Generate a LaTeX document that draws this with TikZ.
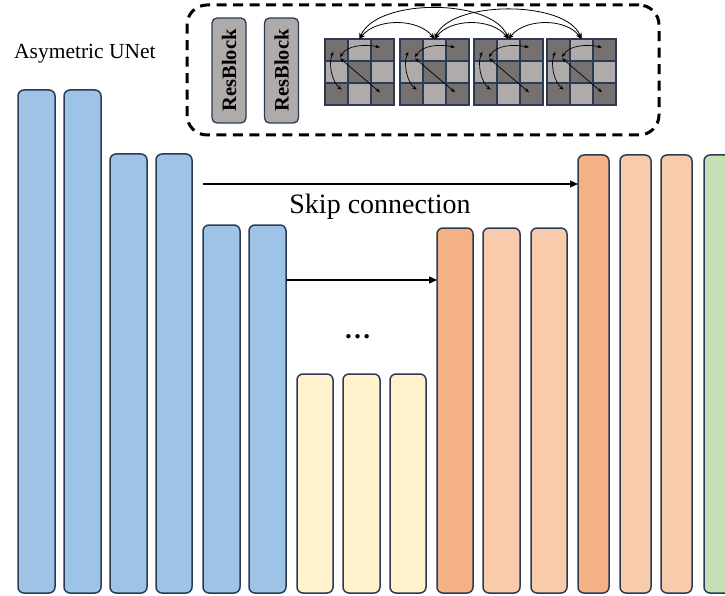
\documentclass[tikz,border=0pt]{standalone}
\usepackage{fontspec}
\setmainfont{Liberation Serif}
\usetikzlibrary{arrows.meta}
\definecolor{edge}{HTML}{2B3A55}
\definecolor{cblue}{HTML}{9DC3E6}
\definecolor{cyel}{HTML}{FFF2CC}
\definecolor{corD}{HTML}{F4B183}
\definecolor{corL}{HTML}{F8CBAD}
\definecolor{cgreen}{HTML}{C5E0B4}
\definecolor{gdark}{HTML}{767171}
\definecolor{glight}{HTML}{AFABAB}
\tikzset{
  bar/.style={draw=edge, line width=1.5pt, rounded corners=6pt, inner sep=0pt, outer sep=0pt},
  resblock/.style={draw=edge, line width=1.3pt, fill=glight, rounded corners=5pt, inner sep=0pt, outer sep=0pt,
     font=\fontsize{20.5}{22}\selectfont\bfseries},
  gridnode/.style={draw=none, minimum width=69pt, minimum height=66pt, inner sep=0pt, outer sep=0pt},
  cellbox/.style={draw=edge, line width=1.2pt},
  arr/.style={line width=1.2pt, -{Triangle[length=8pt,width=7pt]}},
  iarr/.style={line width=0.7pt, {Stealth[length=4.5pt,width=3.5pt]}-{Stealth[length=4.5pt,width=3.5pt]}},
  arcarr/.style={line width=0.8pt, {Stealth[length=6pt,width=5pt]}-{Stealth[length=6pt,width=5pt]}},
  dashbox/.style={draw=black, line width=3pt, dash pattern=on 10pt off 6.5pt, rounded corners=20pt, inner sep=0pt, outer sep=0pt}
}
\newcommand\ubar[5]{\node[bar,fill=#5,minimum width={(#3-#2)*1pt},minimum height={(593-#4)*1pt},anchor=north west] (#1) at (#2,#4) {};}
\newcommand\cellgrid[3]{%
  \node[gridnode,anchor=north west] (#1) at (#2,#3) {};
  \begin{scope}[shift={(#2,#3)}]
    \foreach \i/\j/\c in {0/0/gdark,1/0/glight,2/0/gdark,0/1/glight,1/1/gdark,2/1/glight,0/2/gdark,1/2/glight,2/2/gdark}
      \filldraw[cellbox,fill=\c] (\i*23,\j*22) rectangle ++(23,22);
    \draw[iarr] (8.3,12.7) .. controls (3,25) and (7,43) .. (16.7,50.7);
    \draw[iarr] (15,18.3) .. controls (22,6) and (40,5) .. (55,8.3);
    \draw[iarr] (15,19.3) -- (55,53.3);
  \end{scope}}
\begin{document}
\begin{tikzpicture}[x=1pt,y=-1pt]
\useasboundingbox (0,0) rectangle (725,596);
\clip (0,0) rectangle (725,596);
% title
\node[anchor=base west, inner sep=0pt, font=\fontsize{21.5}{24}\selectfont] (title) at (14,59) {Asymetric UNet};
% encoder bars
\ubar{b1}{18}{55}{90}{cblue}
\ubar{b2}{64}{101}{90}{cblue}
\ubar{b3}{110}{147}{154}{cblue}
\ubar{b4}{156}{192}{154}{cblue}
\ubar{b5}{203}{240}{225}{cblue}
\ubar{b6}{249}{286}{225}{cblue}
% bottleneck
\ubar{y1}{297}{333}{374}{cyel}
\ubar{y2}{343}{380}{374}{cyel}
\ubar{y3}{390}{426}{374}{cyel}
% decoder
\ubar{o1}{437}{473}{228}{corD}
\ubar{o2}{483}{520}{228}{corL}
\ubar{o3}{531}{567}{228}{corL}
\ubar{r1}{578}{609}{155}{corD}
\ubar{r2}{620}{651}{155}{corL}
\ubar{r3}{661}{692}{155}{corL}
\ubar{g0}{704}{745}{155}{cgreen}
% dots
\node[anchor=base, inner sep=0pt, font=\fontsize{27}{30}\selectfont\bfseries] (dots) at (357.5,338) {…};
% skip connections
\coordinate (s1) at (0,184);
\coordinate (s2) at (0,280);
\draw[arr] (b5.west |- s1) -- (r1.west |- s1);
\draw[arr] (b6.east |- s2) -- (o1.west |- s2);
\node[anchor=base, inner sep=0pt, font=\fontsize{28}{32}\selectfont] (skip) at (380,213) {Skip connection};
% attention module
\node[dashbox, minimum width=472pt, minimum height=130pt, anchor=north west] (attn) at (187,5) {};
\node[resblock, rotate=90, minimum width=105pt, minimum height=34pt] (rb1) at (229,70.5) {ResBlock};
\node[resblock, rotate=90, minimum width=105pt, minimum height=34pt] (rb2) at (281.5,70.5) {ResBlock};
\cellgrid{gA}{325}{39}
\cellgrid{gB}{400}{39}
\cellgrid{gC}{474}{39}
\cellgrid{gD}{547}{39}
\draw[arcarr] (gA.north) .. controls (376,-2) and (492,-2) .. (gC.north);
\draw[arcarr] (gB.north) .. controls (451,0) and (566,0) .. (gD.north);
\draw[arcarr] (gA.north) .. controls (376,18) and (418,18) .. (gB.north);
\draw[arcarr] (gB.north) .. controls (451,18) and (492,18) .. (gC.north);
\draw[arcarr] (gC.north) .. controls (525,18) and (566,18) .. (gD.north);
\end{tikzpicture}
\end{document}
